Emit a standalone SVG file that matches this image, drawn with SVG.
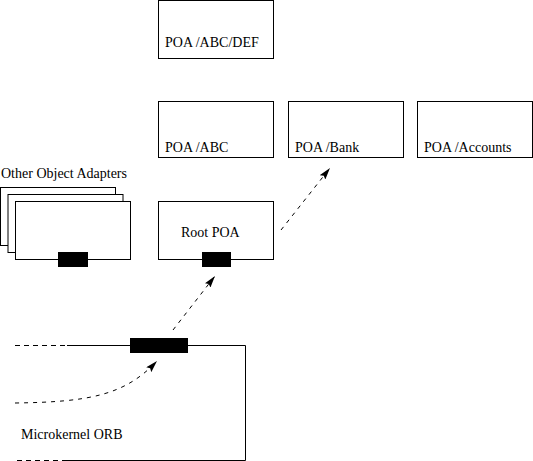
<svg xmlns="http://www.w3.org/2000/svg" width="533" height="461" viewBox="0 0 533 461">
<style>
.box{fill:#fff;stroke:#000;stroke-width:1}
.blk{fill:#000;stroke:none}
.t{font-family:'Liberation Serif','Times New Roman',Times,'DejaVu Serif',serif;font-size:14px;fill:#000}
.ln{fill:none;stroke:#000;stroke-width:1}
.dash{fill:none;stroke:#000;stroke-width:1;stroke-dasharray:5 4}
.arr{fill:none;stroke:#000;stroke-width:1;stroke-dasharray:4 5;marker-end:url(#ah)}
</style>
<defs>
<marker id="ah" viewBox="0 0 12 7" refX="12" refY="3.5" markerWidth="12" markerHeight="7" markerUnits="userSpaceOnUse" orient="auto">
<path d="M0,0 L12,3.5 L0,7 L2,3.5 Z" fill="#000"/>
</marker>
</defs>
<rect width="533" height="461" fill="#fff"/>
<g id="poa-abc-def">
<rect class="box" x="158.5" y="0.5" width="115" height="58"/>
<text class="t" font-family="Liberation Serif, serif" x="165" y="47">POA /ABC/DEF</text>
</g>
<g id="poa-abc">
<rect class="box" x="158.5" y="101.5" width="115" height="56"/>
<text class="t" font-family="Liberation Serif, serif" x="165" y="152">POA /ABC</text>
</g>
<g id="poa-bank">
<rect class="box" x="288.5" y="101.5" width="115" height="56"/>
<text class="t" font-family="Liberation Serif, serif" x="295" y="152">POA /Bank</text>
</g>
<g id="poa-accounts">
<rect class="box" x="417.5" y="101.5" width="115" height="56"/>
<text class="t" font-family="Liberation Serif, serif" x="424" y="152">POA /Accounts</text>
</g>
<g id="other-adapters">
<text class="t" font-family="Liberation Serif, serif" x="1" y="178">Other Object Adapters</text>
<rect class="box" x="0.5" y="187.5" width="115" height="58"/>
<rect class="box" x="8" y="194.5" width="115" height="58"/>
<rect class="box" x="15.5" y="201.5" width="115" height="58"/>
<rect class="blk" x="58" y="252" width="30" height="15"/>
</g>
<g id="root-poa">
<rect class="box" x="158.5" y="201.5" width="115" height="58"/>
<text class="t" font-family="Liberation Serif, serif" x="181" y="237">Root POA</text>
<rect class="blk" x="202" y="252" width="29" height="15"/>
</g>
<g id="microkernel-orb">
<path class="dash" d="M15,345.5 H67"/>
<path class="ln" d="M67,345.5 H245.5 V460.5 H67"/>
<path class="dash" d="M67,460.5 H15"/>
<rect class="blk" x="130" y="338" width="58" height="15"/>
<text class="t" font-family="Liberation Serif, serif" x="21" y="439">Microkernel ORB</text>
</g>
<g id="connectors">
<path class="arr" d="M15,403 C90,402 125,395 157,361"/>
<path class="arr" d="M173,330 L215,276"/>
<path class="arr" d="M281,230 L330,168"/>
</g>
</svg>
